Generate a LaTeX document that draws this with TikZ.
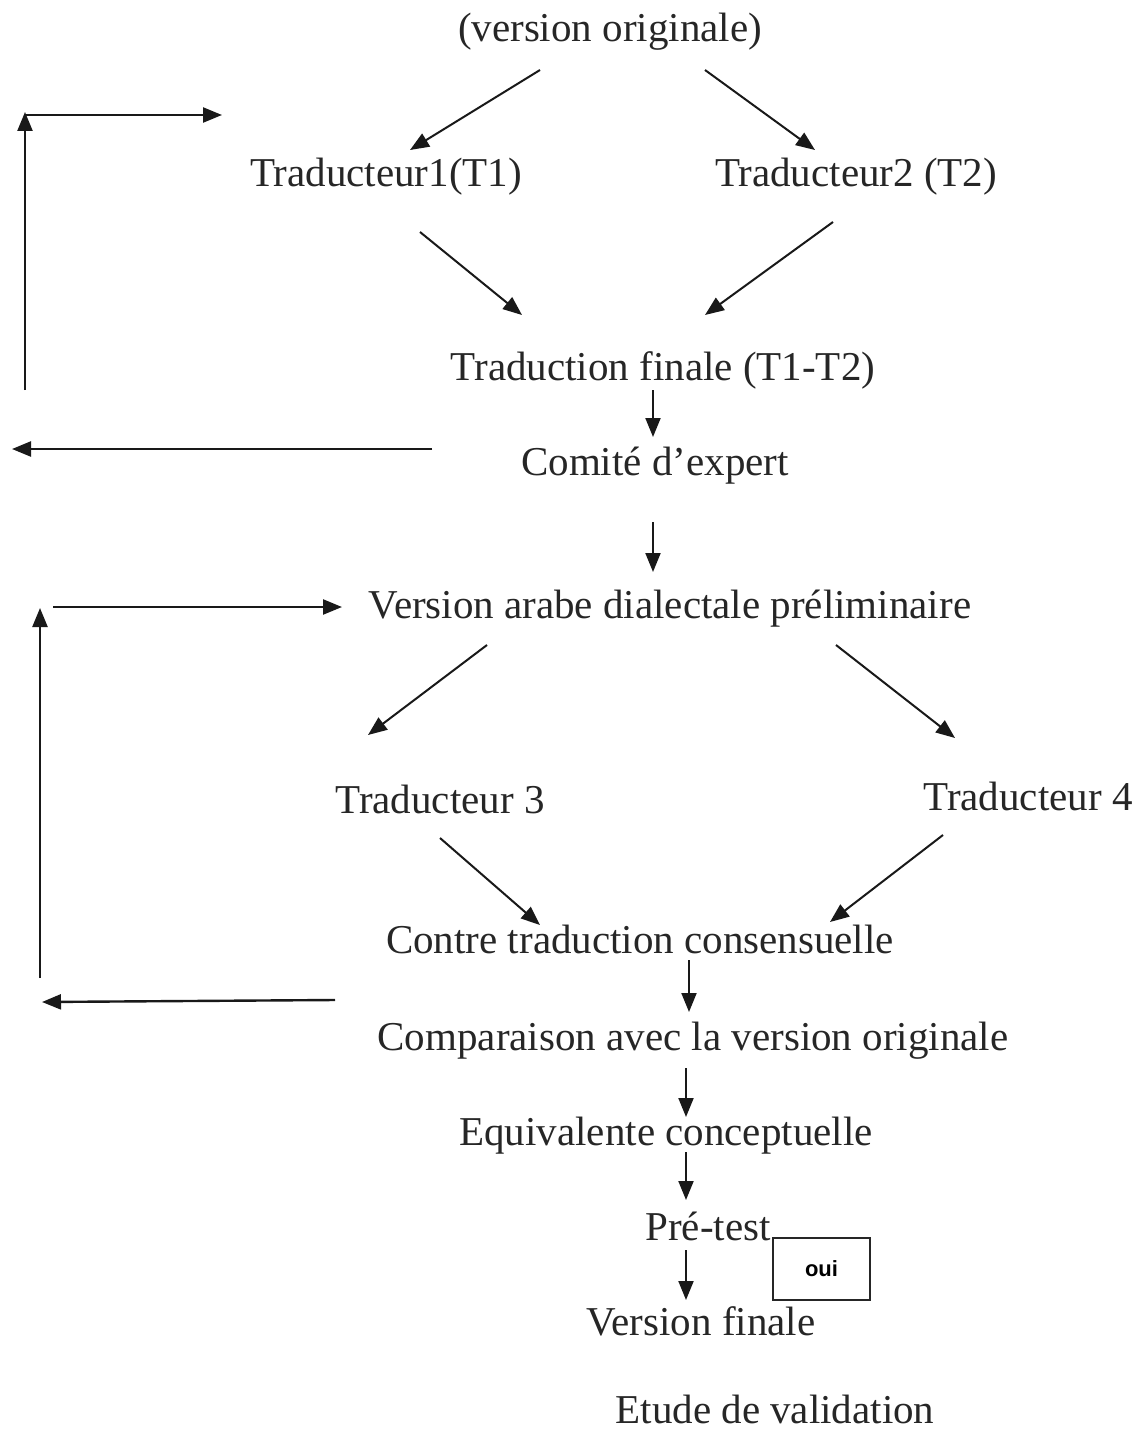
\documentclass[tikz,border=0pt]{standalone}
\usepackage{fontspec}
\setmainfont{Liberation Serif}
\newfontfamily\ouifont{Liberation Sans}
\usetikzlibrary{arrows.meta,calc}
\tikzset{
  lbl/.style={anchor=base,inner sep=0pt,font=\fontsize{41}{48}\selectfont,text=black!85},
  arr/.style={-{Triangle[length=19pt,width=15pt]},line width=2pt,draw=black!90},
  loop/.style={-{Triangle[length=19pt,width=15pt]},line width=2.4pt,draw=black!90},
  ouibox/.style={draw=black!85,line width=2pt,minimum width=97pt,minimum height=62pt,inner sep=0pt,font=\ouifont\bfseries\fontsize{22}{26}\selectfont}
}
\begin{document}
\begin{tikzpicture}[x=1pt,y=-1pt]
\useasboundingbox (0,0) rectangle (1143,1434);
\node[lbl] (vo) at (610,42) {(version originale)};
\node[lbl] (t1) at (386,186) {Traducteur1(T1)};
\node[lbl] (t2) at (856,186) {Traducteur2 (T2)};
\node[lbl] (tf) at (663,380) {Traduction finale (T1-T2)};
\node[lbl] (ce) at (655,475) {Comité d’expert};
\node[lbl] (va) at (670,618) {Version arabe dialectale préliminaire};
\node[lbl] (t3) at (440,813) {Traducteur 3};
\node[lbl] (t4) at (1028,810) {Traducteur 4};
\node[lbl] (ct) at (640,953) {Contre traduction consensuelle};
\node[lbl] (cmp) at (693,1050) {Comparaison avec la version originale};
\node[lbl] (eq) at (666,1145) {Equivalente conceptuelle};
\node[lbl] (pt) at (708,1240) {Pré-test};
\node[lbl] (vf) at (701,1335) {Version finale};
\node[lbl] (ev) at (775,1423) {Etude de validation};
\node[ouibox] (oui) at (821.5,1269) {oui};
% loop coordinates
\coordinate (l1a) at (12,449);
\coordinate (l1b) at (25,390);
\coordinate (l1c) at (25,112);
\coordinate (l1d) at (222,115);
\coordinate (l2a) at (42,1002);
\coordinate (l2b) at (40,978);
\coordinate (l2c) at (40,608);
% main connectors
\draw[arr] ([shift={(-70,28)}]vo.base) -- ([shift={(24,-36)}]t1.base);
\draw[arr] ([shift={(95,28)}]vo.base) -- ([shift={(-41,-36)}]t2.base);
\draw[arr] ([shift={(34,46)}]t1.base) -- ([shift={(-141,-65)}]tf.base);
\draw[arr] ([shift={(-23,36)}]t2.base) -- ([shift={(42,-65)}]tf.base);
\draw[arr] ([shift={(-10,10)}]tf.base) -- ([shift={(-2,-38)}]ce.base);
\draw[arr] ([shift={(-2,47)}]ce.base) -- ([shift={(-17,-46)}]va.base);
\draw[arr] ([shift={(-183,27)}]va.base) -- ([shift={(-72,-78)}]t3.base);
\draw[arr] ([shift={(166,27)}]va.base) -- ([shift={(-73,-72)}]t4.base);
\draw[arr] ([shift={(0,25)}]t3.base) -- ([shift={(-100,-28)}]ct.base);
\draw[arr] ([shift={(-85,25)}]t4.base) -- ([shift={(190,-31)}]ct.base);
\draw[arr] ([shift={(49,7)}]ct.base) -- ([shift={(-4,-38)}]cmp.base);
\draw[arr] ([shift={(-7,18)}]cmp.base) -- ([shift={(20,-28)}]eq.base);
\draw[arr] ([shift={(20,7)}]eq.base) -- ([shift={(-22,-40)}]pt.base);
\draw[arr] ([shift={(-22,10)}]pt.base) -- ([shift={(-15,-35)}]vf.base);
% loops
\draw[loop] ([shift={(-223,-26)}]ce.base) -- (l1a);
\draw[loop] (l1b) -- (l1c);
\draw[loop] ([shift={(0,3)}]l1c) -- (l1d);
\draw[loop] ([shift={(-305,47)}]ct.base) -- (l2a);
\draw[loop] (l2b) -- (l2c);
\draw[loop] (53,607) -- ([shift={(-328,-11)}]va.base);
\end{tikzpicture}
\end{document}
